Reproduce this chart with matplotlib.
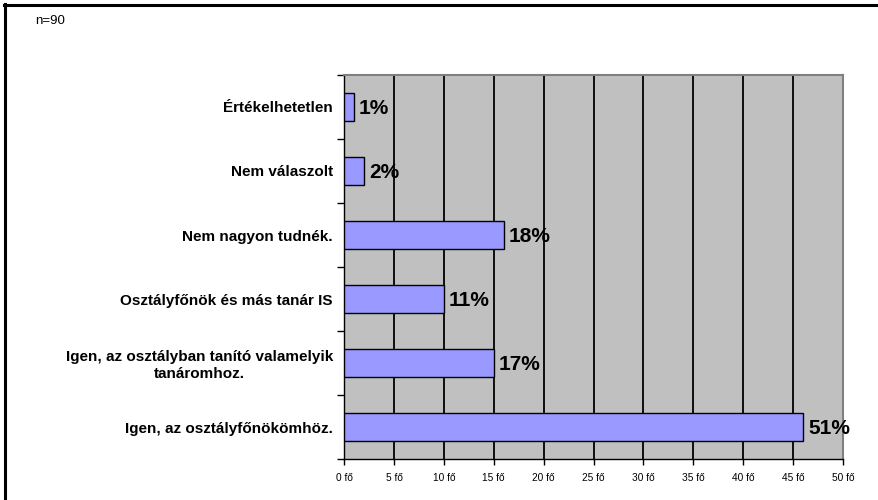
import matplotlib
matplotlib.use("Agg")
import matplotlib.pyplot as plt
from matplotlib.lines import Line2D
import numpy as np

# adatok (alulrol felfele a rajzon)
categories = [
    "Igen, az osztályfőnökömhöz.",
    "Igen, az osztályban tanító valamelyik\ntanáromhoz.",
    "Osztályfőnök és más tanár IS",
    "Nem nagyon tudnék.",
    "Nem válaszolt",
    "Értékelhetetlen",
]
counts = [46, 15, 10, 16, 2, 1]
pct_labels = ["51%", "17%", "11%", "18%", "2%", "1%"]
x_ticks = [0, 5, 10, 15, 20, 25, 30, 35, 40, 45, 50]
x_tick_labels = [f"{v} fő" for v in x_ticks]
n_text = "n=90"

plt.rcParams["font.family"] = ["Liberation Sans", "DejaVu Sans"]

fig = plt.figure(figsize=(8.79, 5.0), dpi=100)
ax = fig.add_axes([0.3914, 0.082, 0.5677, 0.768])
ax.set_facecolor("#C0C0C0")

y = np.arange(len(categories))
ax.set_xlim(0, 50)
ax.set_ylim(-0.5, len(categories) - 0.5)

ax.set_xticks(x_ticks)
ax.grid(axis="x", color="black", linewidth=1.3)
ax.set_axisbelow(True)

ax.barh(y, counts, height=0.43, color="#9999FF", edgecolor="black",
        linewidth=1.0, zorder=3)

for yi, c, lab in zip(y, counts, pct_labels):
    ax.text(c + 0.5, yi - 0.03, lab, ha="left", va="center", fontsize=15,
            fontweight="bold", zorder=4)

ax.set_xticklabels(x_tick_labels, fontsize=7.3)
ax.tick_params(axis="x", direction="out", length=4, width=1, pad=6)

ax.set_yticks(y)
ax.set_yticklabels(categories, fontsize=11, fontweight="bold")
for lbl in ax.get_yticklabels():
    lbl.set_multialignment("center")
    lbl.set_linespacing(1.2)
ax.tick_params(axis="y", which="major", length=0, pad=8)
ax.set_yticks(np.arange(-0.5, len(categories), 1.0), minor=True)
ax.tick_params(axis="y", which="minor", direction="out", length=5, width=1)

for side in ("top", "right"):
    ax.spines[side].set_color("#808080")
    ax.spines[side].set_linewidth(1.5)
for side in ("left", "bottom"):
    ax.spines[side].set_color("black")
    ax.spines[side].set_linewidth(1.0)

fig.text(35 / 879, 1 - 21 / 500, n_text, fontsize=9.5, ha="left", va="center")

# keret a kep tetejen es bal oldalan
fig.add_artist(Line2D([4 / 879, 1.0], [1 - 5 / 500, 1 - 5 / 500],
                      color="black", linewidth=2.2, transform=fig.transFigure))
fig.add_artist(Line2D([5 / 879, 5 / 879], [0.0, 1 - 4 / 500],
                      color="black", linewidth=2.2, transform=fig.transFigure))

fig.savefig("out.png", dpi=100)
